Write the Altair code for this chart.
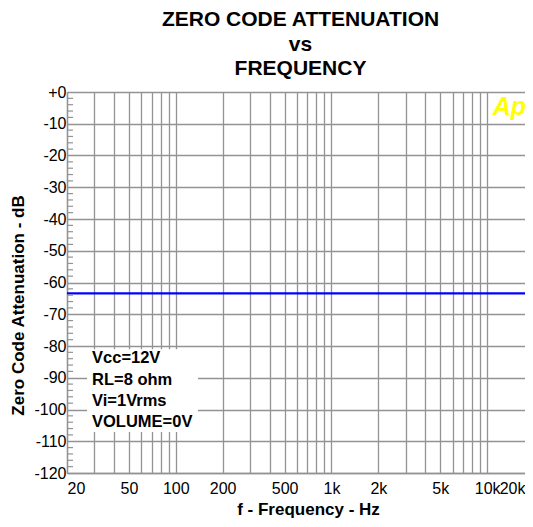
import altair as alt
import pandas as pd

# ---- data ----
line_freq = [20, 20000]
line_db = [-63.4, -63.4]

x_grid = [20, 30, 40, 50, 60, 70, 80, 90, 100,
          200, 300, 400, 500, 600, 700, 800, 900, 1000,
          2000, 3000, 4000, 5000, 6000, 7000, 8000, 9000, 10000, 20000]
x_labeled = [20, 50, 100, 200, 500, 1000, 2000, 5000, 10000, 20000]
y_major = list(range(-120, 1, 10))
y_minor = [v for v in range(-120, 1, 2) if v % 10 != 0]

notes = ["Vcc=12V", "RL=8 ohm", "Vi=1Vrms", "VOLUME=0V"]
notes_db = [-83.8, -90.7, -97.3, -103.9]
notes_freq = [28.96, 28.96, 28.96, 28.96]
box_f = [26.9, 138.9]
box_db = [-81.0, -107.1]
logo = "Ap"
logo_f = [13900]
logo_db = [-4.8]

FONT = "Liberation Sans"
GRID = "#939393"

line_df = pd.DataFrame({"f": line_freq, "db": line_db})
minor_df = pd.DataFrame({"db": y_minor})
notes_df = pd.DataFrame({"f": notes_freq, "db": notes_db, "t": notes})
box_df = pd.DataFrame({"f": [box_f[0]], "f2": [box_f[1]], "db": [box_db[0]], "db2": [box_db[1]]})
logo_df = pd.DataFrame({"f": logo_f, "db": logo_db, "t": [logo]})

labeled_str = ",".join(str(v) for v in x_labeled)
x_label_expr = (
    f"indexof([{labeled_str}], datum.value) >= 0 ? "
    "(datum.value >= 1000 ? (datum.value / 1000) + 'k' : '' + datum.value) : ''"
)

xscale = alt.Scale(type="log", domain=[20, 20000], nice=False)
yscale = alt.Scale(domain=[-120, 0], nice=False, zero=False)

xaxis = alt.Axis(
    values=x_grid, labelExpr=x_label_expr, labelOverlap=False, labelFlush=True,
    labelOffset={"condition": {"test": "datum.value == 20000", "value": -9}, "value": 0},
    ticks=False, grid=True, gridColor=GRID, gridWidth=1.3, gridOpacity=1,
    domain=True, domainColor=GRID, domainWidth=1.3,
    labelFont=FONT, labelFontSize=16, labelColor="#000", labelPadding=7,
    title="f - Frequency - Hz", titleFont=FONT, titleFontSize=17,
    titleFontWeight="bold", titleColor="#000", titleX=241, titlePadding=5,
)
yaxis = alt.Axis(
    values=y_major, labelExpr="datum.value == 0 ? '+0' : '' + datum.value",
    labelOverlap=False,
    ticks=False, grid=True, gridColor=GRID, gridWidth=1.3, gridOpacity=1,
    domain=True, domainColor=GRID, domainWidth=1.3,
    labelFont=FONT, labelFontSize=16, labelColor="#000", labelPadding=1,
    title="Zero Code Attenuation - dB", titleFont=FONT, titleFontSize=17,
    titleFontWeight="bold", titleColor="#000", titleX=-40, titleY=213,
)

X = lambda field: alt.X(field, scale=xscale, axis=xaxis)
Y = lambda field: alt.Y(field, scale=yscale, axis=yaxis)

base_line = alt.Chart(line_df).mark_line(color="#0000ff", strokeWidth=2.2).encode(
    x=X("f:Q"), y=Y("db:Q"),
)

minor = alt.Chart(minor_df).mark_rule(color=GRID, strokeWidth=1.2).encode(
    y=Y("db:Q"),
    x=alt.value(0),
    x2=alt.value(6),
)

box = alt.Chart(box_df).mark_rect(color="white").encode(
    x=X("f:Q"), x2="f2:Q",
    y=Y("db:Q"), y2="db2:Q",
)

note_text = alt.Chart(notes_df).mark_text(
    align="left", baseline="middle", font=FONT, fontSize=16.5, fontWeight="bold", color="#000"
).encode(
    x=X("f:Q"), y=Y("db:Q"), text="t:N",
)

logo_text = alt.Chart(logo_df).mark_text(
    align="center", baseline="middle", font=FONT, fontSize=25, fontWeight="bold",
    fontStyle="italic", color="#ffff00"
).encode(
    x=X("f:Q"), y=Y("db:Q"), text="t:N",
)

chart = alt.layer(base_line, box, minor, note_text, logo_text).properties(
    width=467,
    height=381,
    title=alt.TitleParams(
        ["ZERO CODE ATTENUATION", "vs", "FREQUENCY"],
        font=FONT, fontSize=21, fontWeight="bold", color="#000",
        anchor="middle", lineHeight=24.5, offset=5,
    ),
    padding={"left": 59, "top": 84, "right": -9, "bottom": 46},
    autosize=alt.AutoSizeParams(type="none"),
).configure_view(stroke=GRID, strokeWidth=1.3).configure(background="white")

chart.save("out.html", embed_options={"renderer": "svg", "actions": False})
